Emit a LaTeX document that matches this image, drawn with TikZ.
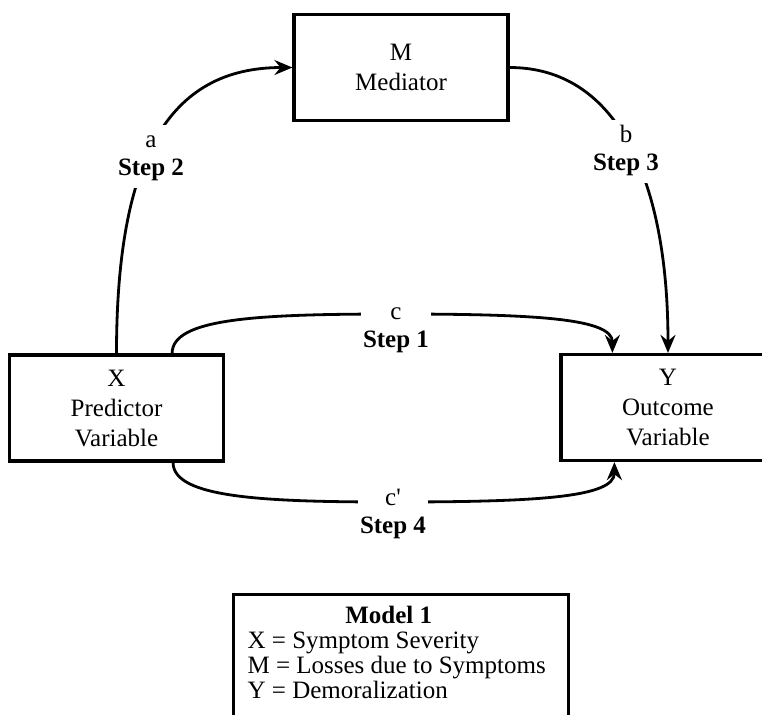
\documentclass[tikz,border=0pt]{standalone}
\usepackage{fontspec}
\setmainfont{Liberation Serif}
\usetikzlibrary{arrows.meta}
\newcommand{\stacked}[2][1.1]{{\renewcommand{\arraystretch}{#1}\begin{tabular}{@{}c@{}}#2\end{tabular}}}
\begin{document}
\begin{tikzpicture}[>={Stealth[length=9pt,width=7.5pt,inset=3pt]},x=0.5pt,y=-0.5pt,
        var/.style={draw,line width=1.6pt,minimum width=107pt,minimum height=53pt,align=center,inner sep=2pt,font=\fontsize{12.5}{15}\selectfont},
        lbl/.style={fill=white,inner xsep=1pt,inner ysep=2pt,font=\fontsize{12.5}{12.5}\selectfont},
        link/.style={->,line width=1.4pt}]
                \useasboundingbox (0,0) rectangle (762,714);
                \clip (0,0) rectangle (762,714);
                \node[var] (M) at (401,67.5) {M\\Mediator};
                \node[var] (X) at (116.5,408) {X\\Predictor\\Variable};
                \node[var] (Y) at (668,407.5) {Y\\Outcome\\Variable};
                \coordinate (c) at (396,314);
                \coordinate (cp) at (393,502);
                \draw[link] (X.north) .. controls +(0,-195) and +(-124,0) .. (M.west);
                \draw[link] (M.east) .. controls +(107,0) and +(0,-174) .. (Y.north);
                \draw[link] ([xshift=-26.5pt]X.north east) .. controls +(0,-35) and +(-140,0) .. (c) .. controls +(144,0) and +(0,-34) .. ([xshift=26.5pt]Y.north west);
                \draw[link] ([xshift=-26pt]X.south east) .. controls +(0,35) and +(-131,0) .. (cp) .. controls +(147,0) and +(0,35) .. ([xshift=27.5pt]Y.south west);
                \node[lbl] (la) at (151,156) {\stacked{a\\\textbf{Step 2}}};
                \node[lbl] (lb) at (626,151) {\stacked{b\\\textbf{Step 3}}};
                \node[lbl] (lc) at (396,328) {\stacked{c\\\textbf{Step 1}}};
                \node[lbl] (lcp) at (393,514) {\stacked{c\textquotesingle\\\textbf{Step 4}}};
                \node[draw,line width=1.6pt,anchor=north west,inner xsep=7pt,inner ysep=5.75pt,font=\fontsize{12.5}{12.5}\selectfont] (model) at (232,593)
                  {\begin{tabular}{@{}l@{\hspace{4.5pt}}}
                   \multicolumn{1}{@{}c@{\hspace{12.5pt}}}{\textbf{Model 1}}\\
                   X = Symptom Severity\\
                   M = Losses due to Symptoms\\
                   Y = Demoralization\\[20pt]
                   \end{tabular}};
        \end{tikzpicture}
\end{document}
